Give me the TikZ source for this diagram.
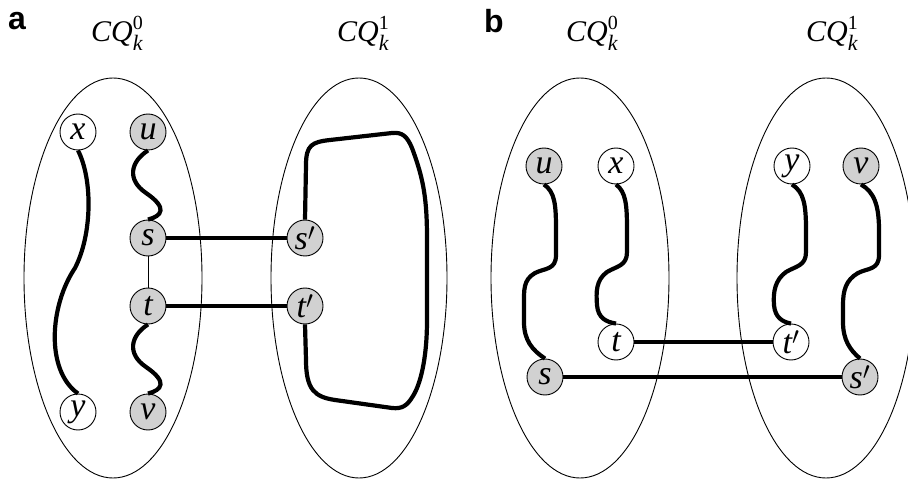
\documentclass[tikz,border=0pt]{standalone}
\usepackage{fontspec}
\setmainfont{Liberation Serif}
\newfontfamily\panelfont{Liberation Sans}
\newfontfamily\vfont{Liberation Serif}
\begin{document}
\begin{tikzpicture}[x=1pt,y=-1pt,
  vtx/.style={circle,draw,line width=0.9pt,minimum size=36pt,inner sep=0pt,
    font=\vfont\itshape\fontsize{34}{34}\selectfont},
  gv/.style={vtx,fill=black!18},
  wv/.style={vtx,fill=white},
  blob/.style={draw,line width=0.9pt},
  thk/.style={line width=4.2pt},
  edge/.style={line width=0.9pt},
  panel/.style={font=\panelfont\bfseries\fontsize{32}{32}\selectfont},
  cq/.style={font=\vfont\fontsize{30}{30}\selectfont}
]
\useasboundingbox (0,0) rectangle (908,481);
\newcommand{\CQlab}[1]{\textit{CQ}\makebox[0pt][l]{\raisebox{-9pt}{\fontsize{22}{22}\selectfont\itshape k}}\raisebox{12pt}{\fontsize{20}{20}\selectfont #1}}

% ===== panel a =====
\node[panel] (la) at (17,21) {a};
\node[cq] (qa0) at (117,33) {\CQlab{0}};
\node[cq] (qa1) at (363,33) {\CQlab{1}};
\draw[blob] (113,278) ellipse [x radius=89pt, y radius=200pt];
\draw[blob] (359,278) ellipse [x radius=88pt, y radius=200pt];

\node[wv] (ax) at (78,132) {x};
\node[gv] (au) at (148,132) {u};
\node[gv] (as) at (148,238) {s};
\node[gv] (at) at (148,306) {t};
\node[wv] (ay) at (78,412) {y};
\node[gv] (av) at (148,412) {v};
\node[gv] (asp) at (305,238) {s$'$};
\node[gv] (atp) at (305,306) {t$'$};

\draw[thk] (ax.south) .. controls (93,180) and (92,235) .. (75,268)
  .. controls (50,305) and (45,370) .. (ay.north);
\draw[thk] (au.south) .. controls (130,162) and (127,180) .. (146,193)
  .. controls (168,208) and (162,216) .. (as.north);
\draw[thk] (at.south) .. controls (130,336) and (127,354) .. (146,367)
  .. controls (168,382) and (162,390) .. (av.north);
\draw[edge] (as) -- (at);
\draw[thk] (as) -- (asp);
\draw[thk] (at) -- (atp);
\draw[thk] (asp.north) -- (306,165) .. controls (306,145) and (312,142) .. (330,140)
  -- (392,133) .. controls (402,132) and (407,136) .. (412,148)
  .. controls (424,180) and (427,200) .. (427,240)
  -- (427,320) .. controls (427,360) and (420,385) .. (413,396)
  .. controls (407,406) and (402,409) .. (392,408)
  -- (335,400) .. controls (315,397) and (306,390) .. (306,360)
  -- (atp.south);

% ===== panel b =====
\node[panel] (lb) at (494,21) {b};
\node[cq] (qb0) at (592,33) {\CQlab{0}};
\node[cq] (qb1) at (832,33) {\CQlab{1}};
\draw[blob] (580,278) ellipse [x radius=89pt, y radius=200pt];
\draw[blob] (826,278) ellipse [x radius=89pt, y radius=200pt];

\node[gv] (bu) at (544,166) {u};
\node[wv] (bx) at (616,166) {x};
\node[wv] (by) at (792,166) {y};
\node[gv] (bv) at (861,166) {v};
\node[wv] (bt) at (616,342) {t};
\node[wv] (btp) at (791,342) {t$'$};
\node[gv] (bs) at (545,377) {s};
\node[gv] (bsp) at (860,377) {s$'$};

\draw[thk] (bu.south) .. controls (555,192) and (556,205) .. (556,230)
  -- (556,255) .. controls (556,270) and (545,268) .. (535,273)
  .. controls (523,280) and (524,290) .. (524,305)
  -- (524,322) .. controls (524,340) and (532,350) .. (bs.north);
\draw[thk] (bx.south) .. controls (626,192) and (627,205) .. (627,230)
  -- (627,252) .. controls (627,266) and (617,266) .. (607,272)
  .. controls (596,280) and (596,292) .. (597,305)
  .. controls (598,318) and (606,322) .. (bt.north);
\draw[thk] (by.south) .. controls (804,192) and (806,205) .. (806,230)
  -- (806,252) .. controls (806,266) and (796,266) .. (786,272)
  .. controls (775,280) and (773,292) .. (774,305)
  .. controls (775,318) and (783,322) .. (btp.north);
\draw[thk] (bv.south) .. controls (874,192) and (879,205) .. (879,230)
  -- (879,255) .. controls (879,270) and (868,268) .. (858,273)
  .. controls (846,280) and (843,290) .. (843,305)
  -- (843,322) .. controls (843,340) and (850,350) .. (bsp.north);
\draw[thk] (bt) -- (btp);
\draw[thk] (bs) -- (bsp);
\end{tikzpicture}
\end{document}
